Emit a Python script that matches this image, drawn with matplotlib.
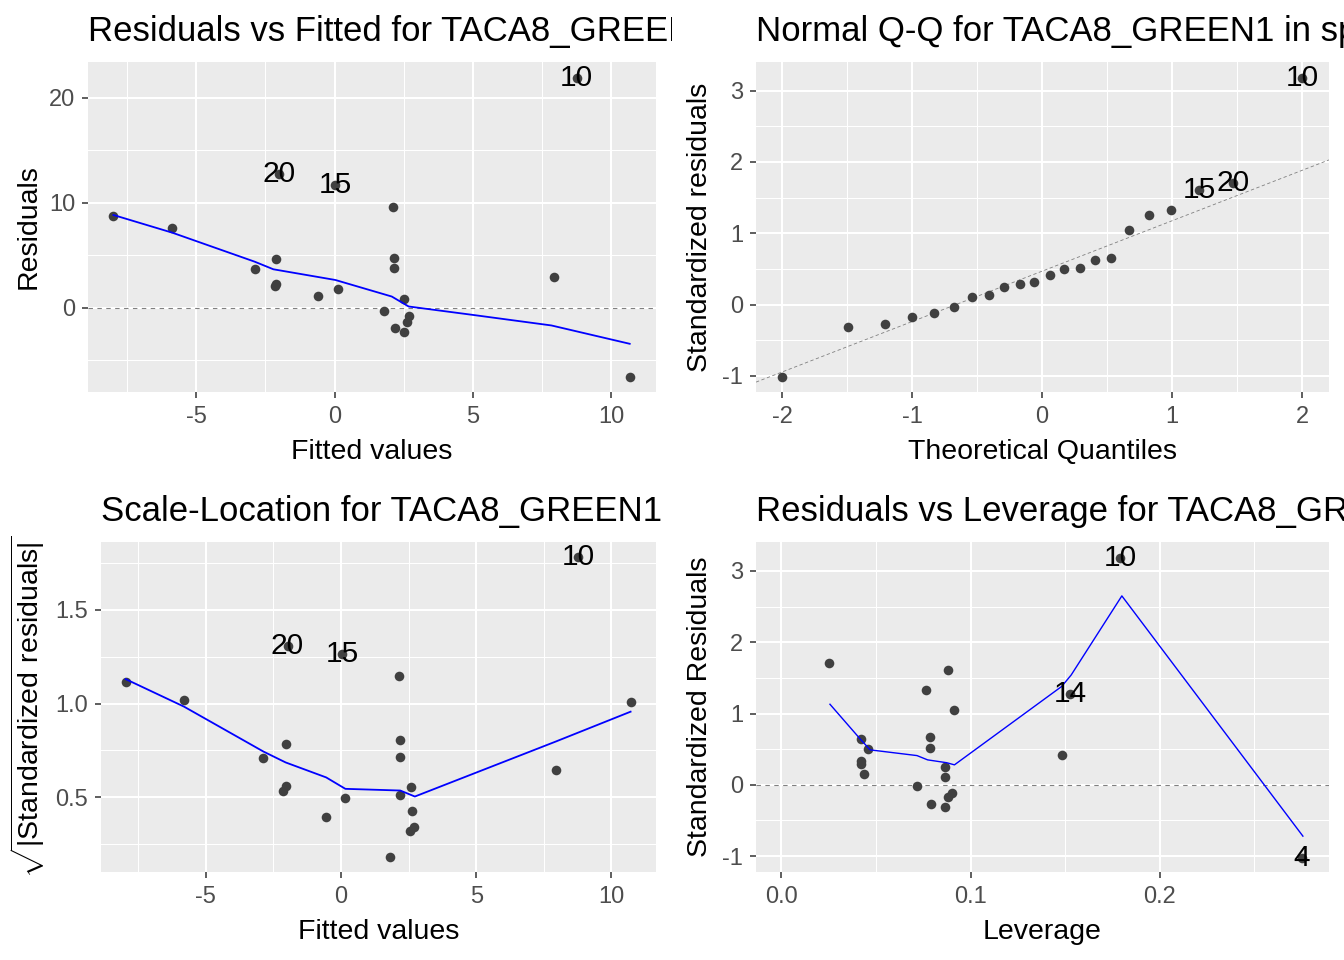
import matplotlib
matplotlib.use('Agg')
import matplotlib.pyplot as plt
from matplotlib.transforms import Bbox, TransformedBbox

plt.rcParams['font.family'] = ['Liberation Sans', 'DejaVu Sans']
plt.rcParams['mathtext.fontset'] = 'custom'
plt.rcParams['mathtext.rm'] = 'Liberation Sans'
plt.rcParams['axes.unicode_minus'] = False

# Residuals vs Fitted
rf_fitted = [-7.99, -5.86, -2.89, -2.12, -2.12, -2.15, -0.60, 0.14, -2.02, 0.03, 2.13,
             2.16, 2.16, 2.51, 1.79, 2.20, 2.51, 2.61, 2.70, 7.93, 8.75, 10.67]
rf_resid = [8.76, 7.62, 3.71, 4.63, 2.25, 2.06, 1.11, 1.81, 12.79, 11.71, 9.62,
            4.76, 3.78, 0.79, -0.29, -2.00, -2.29, -1.37, -0.83, 2.95, 21.94, -6.67]
rf_smooth_x = [-7.99, -5.86, -2.89, -2.21, 0.03, 2.07, 2.68, 4.99, 7.84, 10.67]
rf_smooth_y = [8.83, 7.14, 4.38, 3.65, 2.63, 1.05, 0.10, -0.70, -1.71, -3.46]
rf_lab_idx = [8, 9, 20]
rf_lab_txt = ['20', '15', '10']

# Normal Q-Q
qq_theo = [-2.00, -1.49, -1.21, -1.00, -0.83, -0.68, -0.54, -0.41, -0.29, -0.17, -0.06,
           0.06, 0.17, 0.29, 0.41, 0.53, 0.67, 0.82, 0.99, 1.21, 1.47, 2.00]
qq_sres = [-1.02, -0.31, -0.27, -0.18, -0.12, -0.03, 0.11, 0.14, 0.25, 0.29, 0.32,
           0.41, 0.50, 0.51, 0.62, 0.65, 1.04, 1.26, 1.32, 1.60, 1.71, 3.18]
qq_intercept = 0.468
qq_slope = 0.707
qq_lab_idx = [19, 20, 21]
qq_lab_txt = ['15', '20', '10']

# Scale-Location
sl_fitted = [-7.97, -5.81, -2.87, -2.05, -2.05, -2.13, -0.55, 0.16, -1.98, 0.04, 2.16,
             2.19, 2.19, 2.57, 2.19, 2.64, 2.70, 2.55, 1.81, 7.95, 8.77, 10.71]
sl_sqrt = [1.114, 1.020, 0.712, 0.787, 0.559, 0.531, 0.393, 0.494, 1.307, 1.266, 1.149,
           0.808, 0.716, 0.554, 0.512, 0.425, 0.341, 0.321, 0.179, 0.648, 1.783, 1.009]
sl_smooth_x = [-7.97, -5.81, -2.87, -2.05, -0.55, 0.16, 2.19, 2.73, 7.95, 10.71]
sl_smooth_y = [1.131, 0.984, 0.744, 0.686, 0.606, 0.545, 0.536, 0.504, 0.798, 0.957]
sl_lab_idx = [8, 9, 20]
sl_lab_txt = ['20', '15', '10']

# Residuals vs Leverage
lv_lev = [0.0251, 0.0421, 0.0460, 0.0419, 0.0419, 0.0435, 0.0715, 0.0765, 0.0785, 0.0785, 0.0789,
          0.0866, 0.0866, 0.0881, 0.0911, 0.0881, 0.0901, 0.0866, 0.1486, 0.1526, 0.1790, 0.2751]
lv_sres = [1.71, 0.64, 0.50, 0.34, 0.29, 0.15, -0.02, 1.33, 0.67, 0.52, -0.27,
           0.25, 0.11, 1.61, 1.05, -0.17, -0.11, -0.31, 0.42, 1.27, 3.18, -1.03]
lv_smooth_x = [0.0257, 0.0421, 0.0470, 0.0717, 0.0773, 0.0874, 0.0915, 0.1482, 0.1532, 0.1800, 0.2757]
lv_smooth_y = [1.13, 0.63, 0.49, 0.41, 0.35, 0.31, 0.28, 1.38, 1.54, 2.65, -0.72]
lv_lab_idx = [19, 20, 21]
lv_lab_txt = ['14', '10', '4']

titles = ['Residuals vs Fitted for TACA8_GREEN1 in spring',
          'Normal Q-Q for TACA8_GREEN1 in spring',
          'Scale-Location for TACA8_GREEN1 in spring',
          'Residuals vs Leverage for TACA8_GREEN1 in spring']

W, H = 1344, 960
fig = plt.figure(figsize=(W / 100, H / 100), dpi=100)


def add_panel(left, top, right, bottom):
    return fig.add_axes([left / W, 1 - bottom / H, (right - left) / W, (bottom - top) / H])


def style(ax, xlim, ylim, xmaj, xlab, ymaj, ylab, xmin, ymin):
    ax.set_facecolor('#EBEBEB')
    for s in ax.spines.values():
        s.set_visible(False)
    ax.set_xlim(xlim)
    ax.set_ylim(ylim)
    ax.set_xticks(xmaj, xlab)
    ax.set_yticks(ymaj, ylab)
    ax.set_xticks(xmin, minor=True)
    ax.set_yticks(ymin, minor=True)
    ax.grid(which='major', color='white', lw=1.45)
    ax.grid(which='minor', color='white', lw=0.75)
    ax.set_axisbelow(True)
    ax.tick_params(which='minor', length=0)
    ax.tick_params(which='major', length=4.3, width=1.1, color='#333333',
                   labelcolor='#4D4D4D', labelsize=17)
    ax.tick_params(axis='x', pad=6)
    ax.tick_params(axis='y', pad=5)


def labels(ax, xs, ys, idx, txt):
    for i, t in zip(idx, txt):
        ax.text(xs[i], ys[i], t, ha='center', va='center', fontsize=21.5, color='black', zorder=5)


def title(ax, text, cell_x0, cell_x1):
    # titles are cut at the edge of their grid cell, like in the original layout
    t = ax.set_title(text, loc='left', fontsize=25, pad=15)
    t.set_clip_box(TransformedBbox(Bbox.from_extents(cell_x0 / W, 0, cell_x1 / W, 1), fig.transFigure))
    t.set_clip_on(True)


def axis_titles(ax, xl, yl, ycoord_x):
    ax.set_xlabel(xl, fontsize=20.5)
    ax.xaxis.label.set_va('baseline')
    ax.xaxis.set_label_coords(0.5, -0.203)
    ax.set_ylabel(yl, fontsize=20.5)
    ax.yaxis.label.set_va('center')
    ax.yaxis.set_label_coords(ycoord_x, 0.5)


pt = dict(s=48, color='#404040', zorder=3, linewidths=0)

# panel 1
ax1 = add_panel(88, 62, 656, 392)
style(ax1, (-8.91, 11.62), (-8.06, 23.43), [-5, 0, 5, 10], ['-5', '0', '5', '10'],
      [0, 10, 20], ['0', '10', '20'], [-7.5, -2.5, 2.5, 7.5], [-5, 5, 15])
ax1.axhline(0, color='#808080', lw=0.8, ls=(0, (4, 4)), zorder=2)
ax1.scatter(rf_fitted, rf_resid, **pt)
ax1.plot(rf_smooth_x, rf_smooth_y, color='blue', lw=1.3, zorder=4)
labels(ax1, rf_fitted, rf_resid, rf_lab_idx, rf_lab_txt)
title(ax1, titles[0], 0, 672)
axis_titles(ax1, 'Fitted values', 'Residuals', -0.105)

# panel 2
ax2 = add_panel(756, 62, 1329, 392)
style(ax2, (-2.2, 2.206), (-1.226, 3.40), [-2, -1, 0, 1, 2], ['-2', '-1', '0', '1', '2'],
      [-1, 0, 1, 2, 3], ['-1', '0', '1', '2', '3'], [-1.5, -0.5, 0.5, 1.5], [-0.5, 0.5, 1.5, 2.5])
ax2.axline((0, qq_intercept), slope=qq_slope, color='#808080', lw=0.6, ls=(0, (4, 3)), zorder=2)
ax2.scatter(qq_theo, qq_sres, **pt)
labels(ax2, qq_theo, qq_sres, qq_lab_idx, qq_lab_txt)
title(ax2, titles[1], 672, 1344)
axis_titles(ax2, 'Theoretical Quantiles', 'Standardized residuals', -0.0977)

# panel 3
ax3 = add_panel(101, 542, 656, 872)
style(ax3, (-8.88, 11.65), (0.101, 1.863), [-5, 0, 5, 10], ['-5', '0', '5', '10'],
      [0.5, 1.0, 1.5], ['0.5', '1.0', '1.5'], [-7.5, -2.5, 2.5, 7.5], [0.25, 0.75, 1.25, 1.75])
ax3.scatter(sl_fitted, sl_sqrt, **pt)
ax3.plot(sl_smooth_x, sl_smooth_y, color='blue', lw=1.3, zorder=4)
labels(ax3, sl_fitted, sl_sqrt, sl_lab_idx, sl_lab_txt)
title(ax3, titles[2], 0, 672)
axis_titles(ax3, 'Fitted values', r'$\sqrt{|\mathrm{Standardized\ residuals}|}$', -0.1315)

# panel 4
ax4 = add_panel(756, 542, 1329, 872)
style(ax4, (-0.0134, 0.2895), (-1.223, 3.406), [0.0, 0.1, 0.2], ['0.0', '0.1', '0.2'],
      [-1, 0, 1, 2, 3], ['-1', '0', '1', '2', '3'], [0.05, 0.15, 0.25], [-0.5, 0.5, 1.5, 2.5])
ax4.axhline(0, color='#808080', lw=0.8, ls=(0, (4, 4)), zorder=2)
ax4.scatter(lv_lev, lv_sres, **pt)
ax4.plot(lv_smooth_x, lv_smooth_y, color='blue', lw=1.0, zorder=4)
labels(ax4, lv_lev, lv_sres, lv_lab_idx, lv_lab_txt)
title(ax4, titles[3], 672, 1344)
axis_titles(ax4, 'Leverage', 'Standardized Residuals', -0.0977)

fig.savefig('out.png', dpi=100)
